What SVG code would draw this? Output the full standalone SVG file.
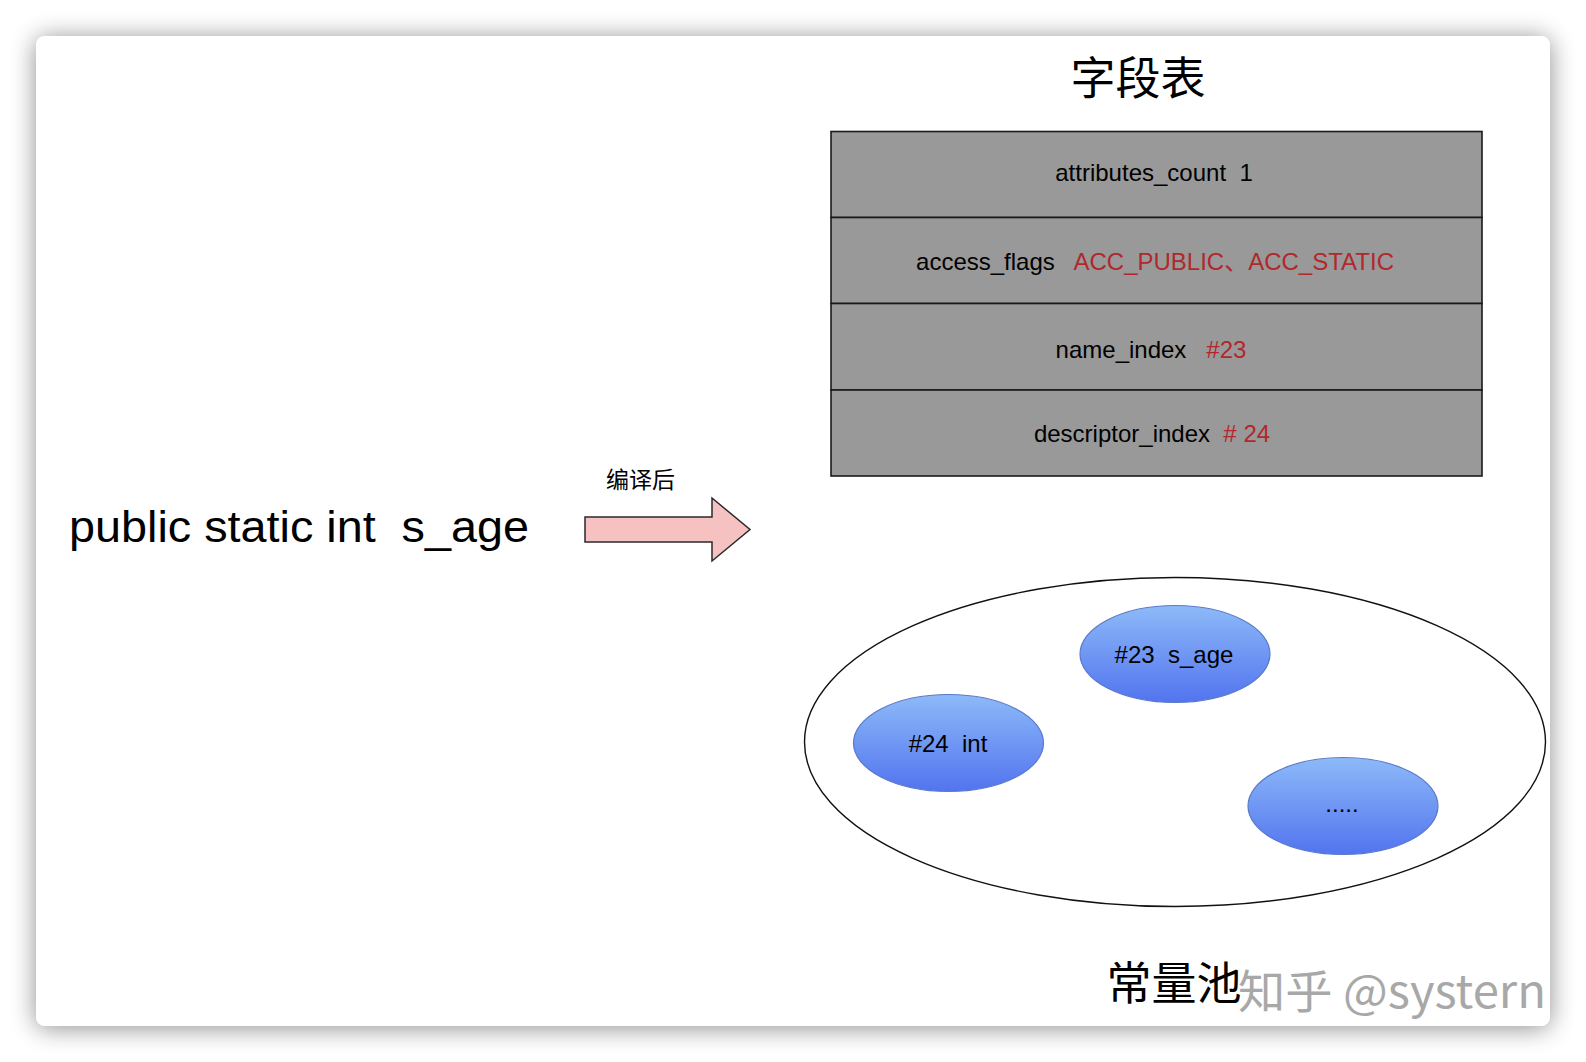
<svg xmlns="http://www.w3.org/2000/svg" width="1586" height="1062" viewBox="0 0 1586 1062">
  <defs>
    <filter id="shadow" x="-5%" y="-8%" width="110%" height="116%">
      <feGaussianBlur in="SourceAlpha" stdDeviation="13"/>
      <feOffset dx="0" dy="2" result="b"/>
      <feComponentTransfer><feFuncA type="linear" slope="0.45"/></feComponentTransfer>
      <feMerge><feMergeNode/><feMergeNode in="SourceGraphic"/></feMerge>
    </filter>
    <linearGradient id="blue" x1="0" y1="0" x2="0" y2="1">
      <stop offset="0" stop-color="#8dbaf8"/>
      <stop offset="1" stop-color="#5274ef"/>
    </linearGradient>
  </defs>
  <style>
    .lat { font-family: "Liberation Sans", Arial, sans-serif; fill: #000; }
    .cjk { font-family: "Noto Sans CJK SC", "Noto Sans", sans-serif; fill: #000; }
    .red { fill: #b0282c; }
    .row { fill: #999999; stroke: #1a1a1a; stroke-width: 1.6; }
    .blob { fill: url(#blue); stroke: #5b79c9; stroke-width: 1.2; }
  </style>
  <rect width="1586" height="1062" fill="#ffffff"/>
  <rect id="card" x="36" y="36" width="1514" height="990" rx="9" fill="#ffffff" filter="url(#shadow)"/>

  <g id="title">
    <text class="cjk" x="1138" y="95" font-size="45" text-anchor="middle">字段表</text>
  </g>

  <g id="field-table">
    <rect class="row" x="831" y="131.5" width="651" height="86"/>
    <rect class="row" x="831" y="217.5" width="651" height="86"/>
    <rect class="row" x="831" y="303.5" width="651" height="86.5"/>
    <rect class="row" x="831" y="390" width="651" height="86"/>
    <text class="lat" x="1154" y="181" font-size="24" text-anchor="middle" xml:space="preserve">attributes_count  1</text>
    <text class="lat" x="1155" y="270" font-size="24" text-anchor="middle" xml:space="preserve">access_flags   <tspan class="red">ACC_PUBLIC<tspan font-family="Noto Sans CJK SC, sans-serif">、</tspan>ACC_STATIC</tspan></text>
    <text class="lat" x="1151" y="358" font-size="24" text-anchor="middle" xml:space="preserve">name_index   <tspan class="red">#23</tspan></text>
    <text class="lat" x="1152" y="442" font-size="24" text-anchor="middle" xml:space="preserve">descriptor_index  <tspan class="red"># 24</tspan></text>
  </g>

  <g id="source">
    <text class="lat" x="69" y="542" font-size="44" textLength="460" lengthAdjust="spacingAndGlyphs" xml:space="preserve">public static int  s_age</text>
  </g>

  <g id="connectors">
    <polygon id="compile-arrow" points="585,517 712,517 712,498 750,529.5 712,561 712,542 585,542" fill="#f5c1c1" stroke="#2a2a2a" stroke-width="1.5" stroke-linejoin="miter"/>
    <text class="cjk" x="640.5" y="488" font-size="23" text-anchor="middle">编译后</text>
  </g>

  <g id="constant-pool">
    <ellipse cx="1175" cy="742" rx="370.5" ry="164.5" fill="#ffffff" stroke="#111" stroke-width="1.4"/>
  </g>
  <g id="c23">
    <ellipse class="blob" cx="1175" cy="654" rx="95" ry="48.5"/>
    <text class="lat" x="1174" y="663" font-size="24" text-anchor="middle" xml:space="preserve">#23  s_age</text>
  </g>
  <g id="c24">
    <ellipse class="blob" cx="948.5" cy="743" rx="95" ry="48.5"/>
    <text class="lat" x="948" y="752" font-size="24" text-anchor="middle" xml:space="preserve">#24  int</text>
  </g>
  <g id="cmore">
    <ellipse class="blob" cx="1343" cy="806" rx="95" ry="48.5"/>
    <text class="lat" x="1342" y="812" font-size="24" text-anchor="middle">.....</text>
  </g>
  <g id="pool-label">
    <text class="cjk" x="1174" y="1000" font-size="45" text-anchor="middle">常量池</text>
  </g>
  <g id="watermark">
    <text class="cjk" x="1238" y="1008" font-size="46" style="fill:#a8a8a8" textLength="308" lengthAdjust="spacingAndGlyphs">知乎 @systern</text>
  </g>
</svg>
